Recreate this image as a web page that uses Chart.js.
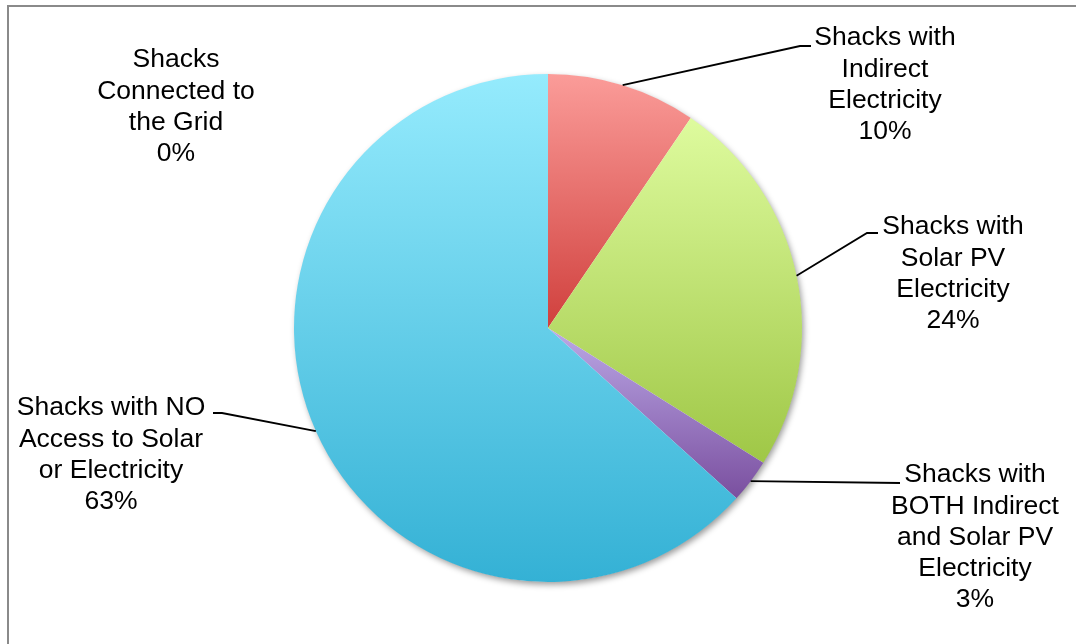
<!DOCTYPE html>
<html>
<head>
<meta charset="utf-8">
<script src="https://cdn.jsdelivr.net/npm/chart.js@4/dist/chart.umd.min.js"></script>
<style>
  html, body { margin: 0; padding: 0; background: #fff; }
  #wrap { position: relative; width: 1076px; height: 644px; overflow: hidden; }
  #frame {
    position: absolute; left: 7px; top: 5px; width: 1200px; height: 800px;
    border-left: 2px solid #8a8a8a; border-top: 2px solid #8a8a8a;
  }
  #holder { position: absolute; left: 0; top: 0; width: 1076px; height: 644px; }
</style>
</head>
<body>
<div id="wrap">
  <div id="frame"></div>
  <div id="holder"><canvas id="accessChart"></canvas></div>
</div>
<script>
// slices go clockwise from 12 o'clock
const categories = [
  "Shacks with Indirect Electricity",
  "Shacks with Solar PV Electricity",
  "Shacks with BOTH Indirect and Solar PV Electricity",
  "Shacks with NO Access to Solar or Electricity",
  "Shacks Connected to the Grid",
];
const shares = [9.5, 24.4, 2.8, 63.3, 0];
const labelLines = [
  ["Shacks with", "Indirect", "Electricity"],
  ["Shacks with", "Solar PV", "Electricity"],
  ["Shacks with", "BOTH Indirect", "and Solar PV", "Electricity"],
  ["Shacks with NO", "Access to Solar", "or Electricity"],
  ["Shacks", "Connected to", "the Grid"],
];

// top / bottom colours of each slice's vertical gradient
const sliceTop = ["#fb9c99", "#defb9e", "#bba8e6", "#95ebfd", "#9bbbd9"];
const sliceBottom = ["#d0403d", "#9fc746", "#7a4f9f", "#34b1d5", "#4f81bd"];

// where each label block sits and how its leader bends
const labelLayout = [
  { x: 885, y: 38, elbow: [800, 46], end: [811, 46] },
  { x: 953, y: 227, elbow: [867, 233], end: [878, 233] },
  { x: 975, y: 475, elbow: [900, 483], end: [900, 483] },
  { x: 111, y: 408, elbow: [222, 413], end: [213, 413] },
  { x: 176, y: 60, elbow: null, end: null },
];
const lineGap = 31.2;

const total = shares.reduce((a, b) => a + b, 0);

function sliceFill(context) {
  const chart = context.chart;
  const area = chart.chartArea;
  const i = context.dataIndex;
  if (!area || i === undefined) return sliceBottom[i] || "#ccc";
  const cx = (area.left + area.right) / 2;
  const cy = (area.top + area.bottom) / 2;
  const r = Math.min(area.right - area.left, area.bottom - area.top) / 2;
  let before = 0;
  for (let k = 0; k < i; k++) before += shares[k];
  const a0 = -Math.PI / 2 + (before / total) * Math.PI * 2;
  const a1 = a0 + (shares[i] / total) * Math.PI * 2;
  const ys = [cy, cy + r * Math.sin(a0), cy + r * Math.sin(a1)];
  [-Math.PI / 2, Math.PI / 2, Math.PI * 1.5].forEach((k) => {
    if (k > a0 && k < a1) ys.push(cy + r * Math.sin(k));
  });
  const top = Math.min(...ys);
  const bottom = Math.max(...ys) + 0.01;
  const g = chart.ctx.createLinearGradient(0, top, 0, bottom);
  g.addColorStop(0, sliceTop[i]);
  g.addColorStop(1, sliceBottom[i]);
  return g;
}

const pieShadow = {
  id: "pieShadow",
  beforeDatasetsDraw(chart) {
    const arc = chart.getDatasetMeta(0).data[0];
    if (!arc) return;
    const ctx = chart.ctx;
    ctx.save();
    ctx.shadowColor = "rgba(0,0,0,0.4)";
    ctx.shadowBlur = 6;
    ctx.shadowOffsetX = 2;
    ctx.shadowOffsetY = 3;
    ctx.fillStyle = "#fff";
    ctx.beginPath();
    ctx.arc(arc.x, arc.y, arc.outerRadius - 0.5, 0, Math.PI * 2);
    ctx.fill();
    ctx.restore();
  },
};

const sliceLabels = {
  id: "sliceLabels",
  afterDatasetsDraw(chart) {
    const ctx = chart.ctx;
    const meta = chart.getDatasetMeta(0);
    ctx.save();
    ctx.font = '26.5px "Liberation Sans", Arial, sans-serif';
    ctx.fillStyle = "#000";
    ctx.textAlign = "center";
    ctx.textBaseline = "middle";
    ctx.strokeStyle = "#000";
    ctx.lineWidth = 1.8;
    meta.data.forEach((arc, i) => {
      const spot = labelLayout[i];
      const pct = Math.round((shares[i] / total) * 100) + "%";
      const lines = labelLines[i].concat([pct]);
      lines.forEach((t, n) => ctx.fillText(t, spot.x, spot.y + n * lineGap));
      if (!spot.elbow || shares[i] === 0) return;
      const mid = (arc.startAngle + arc.endAngle) / 2;
      const sx = arc.x + Math.cos(mid) * arc.outerRadius;
      const sy = arc.y + Math.sin(mid) * arc.outerRadius;
      ctx.beginPath();
      ctx.moveTo(sx, sy);
      ctx.lineTo(spot.elbow[0], spot.elbow[1]);
      ctx.lineTo(spot.end[0], spot.end[1]);
      ctx.stroke();
    });
    ctx.restore();
  },
};

new Chart(document.getElementById("accessChart"), {
  type: "pie",
  data: {
    labels: categories,
    datasets: [
      {
        data: shares,
        backgroundColor: sliceFill,
        borderWidth: 0,
      },
    ],
  },
  options: {
    responsive: true,
    maintainAspectRatio: false,
    animation: false,
    layout: {
      padding: { left: 294, right: 274, top: 74, bottom: 62 },
    },
    plugins: {
      legend: { display: false },
      tooltip: { enabled: false },
    },
  },
  plugins: [pieShadow, sliceLabels],
});
</script>
</body>
</html>
